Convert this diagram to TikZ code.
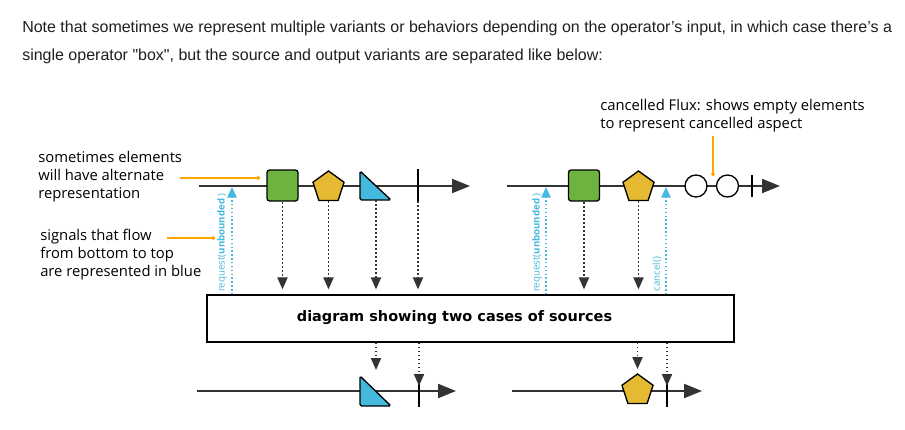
\documentclass[tikz,border=0pt]{standalone}
\usepackage{fontspec}
\setmainfont{Liberation Sans}
\newfontfamily\notefont{Open Sans}
\newfontfamily\boxfont{DejaVu Sans}
\usetikzlibrary{positioning, shapes.geometric, arrows.meta}

\definecolor{fluxgreen}{HTML}{6CB33F}
\definecolor{fluxyellow}{HTML}{E5BA32}
\definecolor{fluxblue}{HTML}{45B8DE}
\definecolor{noteorange}{HTML}{FFA500}
\definecolor{linegrey}{HTML}{333333}

\tikzset{
  headtext/.style={font=\fontsize{12}{14}\selectfont, text=black!88, inner sep=0pt},
  notetext/.style={font=\notefont\fontsize{11.1}{13.5}\selectfont, align=left, inner sep=0pt},
  timeline/.style={draw=linegrey, line width=1.6pt, -{Triangle[length=13.5pt,width=10.5pt]}},
  elem/.style={draw=black, line width=1pt, inner sep=0pt},
  sqelem/.style={elem, rectangle, rounded corners=2pt, fill=fluxgreen, minimum size=23.25pt},
  pentelem/.style={elem, regular polygon, regular polygon sides=5, fill=fluxyellow, minimum size=24.5pt},
  triangle/.style={elem, fill=fluxblue, rounded corners=1.2pt},
  emptyelem/.style={elem, circle, fill=white, minimum size=16.5pt},
  stopbar/.style={draw=black, line width=2pt},
  signal/.style={draw=linegrey, line width=1.4pt, dash pattern=on 1.4pt off 1.6pt, -{Triangle[length=9pt,width=7.5pt]}, shorten >=3.75pt},
  request/.style={draw=fluxblue, line width=1.1pt, dash pattern=on 1.1pt off 1.8pt, -{Triangle[length=8pt,width=7pt]}},
  reqlabel/.style={text=fluxblue, rotate=90, font=\notefont\fontsize{7.3}{8}\selectfont, inner sep=0pt},
  noteline/.style={draw=noteorange, line width=1.1pt, -{Circle[length=2.6pt]}}
}

\begin{document}
\begin{tikzpicture}[x=0.75pt,y=-0.75pt]
\useasboundingbox (0,0) rectangle (905,429);

% text above the picture
\node[headtext, anchor=west] (head1) at (22,28) {Note that sometimes we represent multiple variants or behaviors depending on the operator’s input, in which case there’s a};
\node[headtext, anchor=west] (head2) at (22,56) {single operator \textquotedbl box\textquotedbl, but the source and output variants are separated like below:};

% the operator box
\node[draw=black, line width=0.9pt, minimum width=395.25pt, minimum height=35.25pt, inner sep=0pt] (box) at (470.5,318.5) {};
\node[font=\boxfont\bfseries\fontsize{10.85}{12}\selectfont, inner sep=0pt] (boxtext) at (454.5,318) {diagram showing two cases of sources};

% source 1
\draw[timeline] (199,186) -- (470,186);
\node[sqelem] (s1) at (282.5,185.5) {};
\node[pentelem] (p1) at (328.5,187.3) {};
\coordinate (t1) at (360,186);
\draw[triangle] (t1) ++(0,-15) -- ++(0,29) -- ++(31,0) -- cycle;
\coordinate (t1b) at (376,200);
\coordinate (c1) at (418,186);
\draw[stopbar] (c1) ++(0,-17) -- ++(0,32);
\draw[signal] (s1.south) -- (s1.south |- box.north);
\draw[signal] (p1.south) -- (p1.south |- box.north);
\draw[signal] (t1b) -- (t1b |- box.north);
\draw[signal] (c1) ++(0,15) -- (c1 |- box.north);
\coordinate (r1) at (232,187);
\draw[request] (r1 |- box.north) -- (r1);
\node[reqlabel] (r1lab) at (222,243) {request(\textbf{unbounded}\,)};

% source 2, cancelled
\draw[timeline] (507,186) -- (780,186);
\node[sqelem] (s2) at (584,185.5) {};
\node[pentelem] (p2) at (638.5,187.3) {};
\node[emptyelem] (e1) at (696,186) {};
\node[emptyelem] (e2) at (727.5,186) {};
\coordinate (c2) at (752,186);
\draw[stopbar] (c2) ++(0,-11) -- ++(0,22);
\draw[signal] (s2.south) -- (s2.south |- box.north);
\draw[signal] (p2.south) -- (p2.south |- box.north);
\coordinate (r2) at (546,187);
\draw[request] (r2 |- box.north) -- (r2);
\node[reqlabel] (r2lab) at (537,243) {request(\textbf{unbounded}\,)};
\coordinate (r3) at (666,187);
\draw[request] (r3 |- box.north) -- (r3);
\node[reqlabel] (r3lab) at (657,274) {cancel()};

% output 1
\draw[timeline] (197,391) -- (456,391);
\coordinate (t2) at (360,391);
\draw[triangle] (t2) ++(0,-15) -- ++(0,30) -- ++(31,0) -- cycle;
\coordinate (t2t) at (376,376);
\coordinate (c3) at (419,391);
\draw[stopbar] (c3) ++(0,-15) -- ++(0,31);
\draw[signal, shorten >=4.5pt] (box.south -| t2t) -- (t2t);
\draw[signal] (box.south -| c3) -- (c3);

% output 2
\draw[timeline] (512,391) -- (702,391);
\node[pentelem] (p3) at (637.5,390.3) {};
\coordinate (c4) at (667,391);
\draw[stopbar] (c4) ++(0,-15) -- ++(0,31);
\draw[signal, shorten >=3pt] (box.south -| p3.north) -- (p3.north);
\draw[signal] (box.south -| c4) -- (c4);

% notes
\node[notetext, anchor=north west] (note1) at (38,151) {sometimes elements\\will have alternate\\representation};
\coordinate (n1a) at (180,178);
\coordinate (n1b) at (260,178);
\draw[noteline] (n1a) -- (n1b);
\node[notetext, anchor=north west] (note2) at (40,229) {signals that flow\\from bottom to top\\are represented in blue};
\coordinate (n2a) at (167,238);
\coordinate (n2b) at (215,238);
\draw[noteline] (n2a) -- (n2b);
\node[notetext, anchor=north west] (note3) at (600,99) {cancelled Flux: shows empty elements\\to represent cancelled aspect};
\coordinate (n3a) at (713,136);
\coordinate (n3b) at (713,176);
\draw[noteline] (n3a) -- (n3b);
\end{tikzpicture}
\end{document}
